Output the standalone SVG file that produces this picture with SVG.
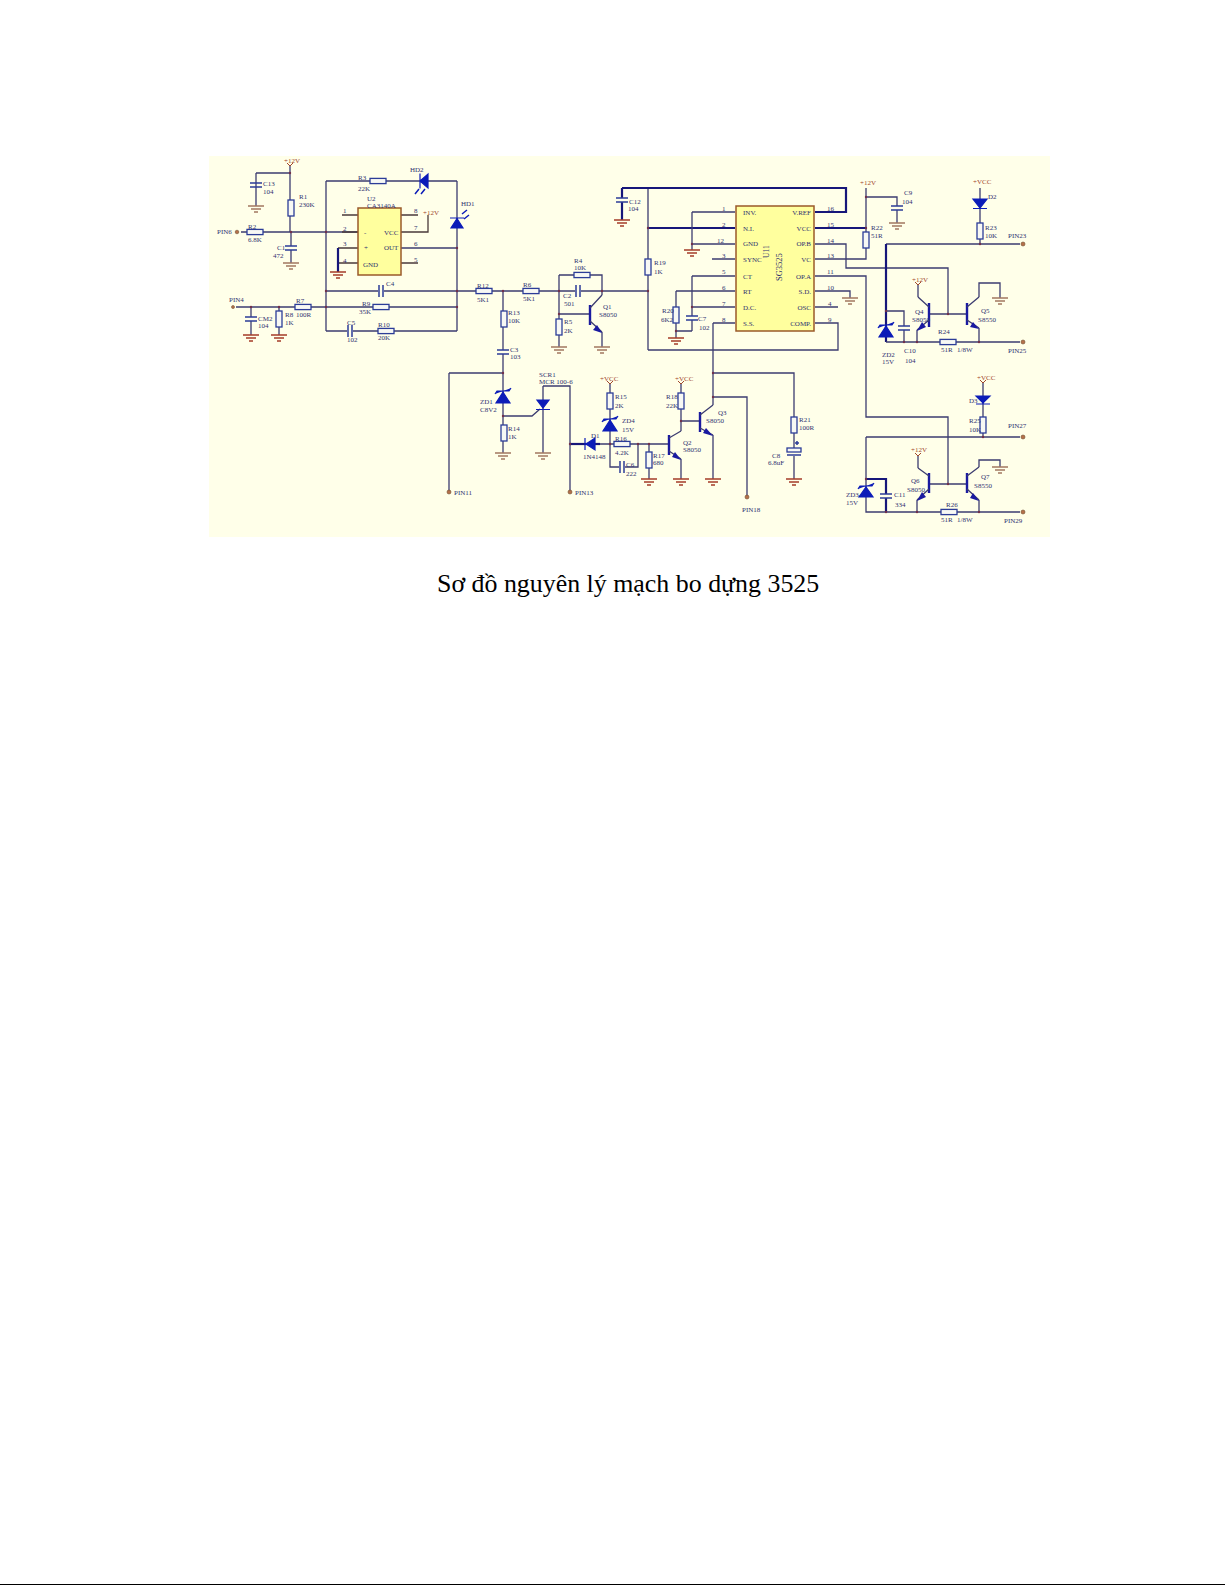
<svg xmlns="http://www.w3.org/2000/svg" width="1225" height="1585" viewBox="0 0 1225 1585">
<style>
text{font-family:"Liberation Serif","Times New Roman",serif;font-size:7px;fill:#2f3270}
.p{fill:#a0462a}
.e{text-anchor:end}
.w{fill:none;stroke:#3c3c70;stroke-width:1.3}
.t{fill:none;stroke:#16167a;stroke-width:2.2}
.b{fill:none;stroke:#4a3a3a;stroke-width:1.3}
.sym{fill:none;stroke:#3c3c70;stroke-width:1.3}
.bar{fill:none;stroke:#1a1aa0;stroke-width:2.4}
.ar{fill:#1a1aa0;stroke:none}
.d{fill:#0c1cb8;stroke:#0c1cb8;stroke-width:1.2}
.la{fill:none;stroke:#0c1cb8;stroke-width:1.5}
.r{fill:#f7f8f4;stroke:#2c3c98;stroke-width:1.3}
.c{fill:none;stroke:#2c3c98;stroke-width:1.5}
.gr{fill:none;stroke:#a53c28;stroke-width:1.5}
.gb{fill:none;stroke:#a37860;stroke-width:1.4}
.vt{fill:none;stroke:#a0462a;stroke-width:1}
.ic{fill:#ffff9e;stroke:#9a5a2a;stroke-width:1.5}
.pin{fill:#b5704a;stroke:#705030;stroke-width:.6}
.j{fill:#70304a}
.cap{font-size:25.9px;fill:#000}
.bg{fill:#ffffe9}
</style>
<defs>
<g id="rv"><rect class="r" x="-3" y="-8" width="6" height="16"/></g>
<g id="rh"><rect class="r" x="-8" y="-2.6" width="16" height="5.2"/></g>
<g id="cv"><path class="c" d="M-6-2H6M-6 2H6"/></g>
<g id="ch"><path class="c" d="M-2-6V6M2-6V6"/></g>
<g id="gnd-r"><path class="gr" d="M-8 0H8M-5 3H5M-2 6H2"/></g>
<g id="gnd-b"><path class="gb" d="M-8 0H8M-5 3H5M-2 6H2"/></g>
<g id="vup"><path class="vt" d="M-3-3L0 0 3-3"/></g>
</defs>
<rect id="page" x="0" y="0" width="1225" height="1585" fill="#fff"/>
<rect id="panel" x="209" y="156" width="841" height="381" class="bg"/>
<rect id="edge" x="0" y="1584" width="1225" height="1" fill="#000"/>

<g id="connectors">
<path class="w" d="M290 165V232M256 173H290M256 173V206M291 232V263M241 232H358M326 181V331M326 181H457M457 181V331M401 248H457M326 291H648M236 307H457M251 307V335M279 307V335M326 331H457"/>
<path class="b" d="M342 215H358M342 232H358M338 248H358M338 263H358M401 215H418M401 232H428V215M401 263H418"/>
<path class="t" d="M338 248V272"/>
<path class="w" d="M503 291V373M449 373H503V416M449 373V491M503 416V453M503 416H532L540 409M543 386V453M543 386H570V491M559 275V347M559 275H602V295M559 314H590M602 332V347M648 188V350M648 350H838V323H815"/>
<path class="t" d="M622 188H846V212H815M622 188V220M648 228H735M815 228H866"/>
<path class="w" d="M692 212H735M692 212V250M692 244H735M712 259H735M692 276H735M692 276V331M692 307H735M676 291H735M676 291V331M676 331V338M676 331H692M713 323H735M713 323V405"/>
<path class="w" d="M815 244H846V268H948V314M815 259H866V188M866 197H897V223M815 276H866V417H948V484M815 291H850V298M815 307H838"/>
<path class="w" d="M713 373H794V479M713 397H747V496"/>
<path class="t" d="M570 444H600"/>
<path class="w" d="M600 444H669M610 383V444M610 444V467H638V444M649 444V479M681 383V431M681 421H700M681 459V479M713 435V479"/>
<path class="w" d="M886 244H1020M980 188V244"/>
<path class="t" d="M886 244V342"/>
<path class="w" d="M886 311H904V342M886 342H1020M918 285V297M917 330V342M929 314H967M979 328V342M979 297V283H1000V298"/>
<path class="w" d="M983 383V437M866 437H1020M866 437V512H1020M918 456V468M917 500V512M929 484H967M979 500V512M979 467V460H1000V467"/>
<path class="t" d="M866 479H886V512"/>
</g>

<g id="junctions">
<circle class="j" cx="290" cy="173" r="1.2"/><circle class="j" cx="291" cy="232" r="1.2"/><circle class="j" cx="326" cy="232" r="1.2"/><circle class="j" cx="326" cy="291" r="1.2"/><circle class="j" cx="326" cy="307" r="1.2"/><circle class="j" cx="457" cy="248" r="1.2"/><circle class="j" cx="457" cy="291" r="1.2"/><circle class="j" cx="457" cy="307" r="1.2"/><circle class="j" cx="251" cy="307" r="1.2"/><circle class="j" cx="279" cy="307" r="1.2"/><circle class="j" cx="503" cy="291" r="1.2"/><circle class="j" cx="503" cy="373" r="1.2"/><circle class="j" cx="503" cy="416" r="1.2"/><circle class="j" cx="559" cy="291" r="1.2"/><circle class="j" cx="602" cy="291" r="1.2"/><circle class="j" cx="559" cy="314" r="1.2"/><circle class="j" cx="648" cy="291" r="1.2"/><circle class="j" cx="648" cy="228" r="1.2"/><circle class="j" cx="692" cy="244" r="1.2"/><circle class="j" cx="692" cy="307" r="1.2"/><circle class="j" cx="676" cy="331" r="1.2"/><circle class="j" cx="866" cy="197" r="1.2"/><circle class="j" cx="866" cy="228" r="1.2"/><circle class="j" cx="980" cy="244" r="1.2"/><circle class="j" cx="886" cy="311" r="1.2"/><circle class="j" cx="904" cy="342" r="1.2"/><circle class="j" cx="917" cy="342" r="1.2"/><circle class="j" cx="979" cy="342" r="1.2"/><circle class="j" cx="948" cy="314" r="1.2"/><circle class="j" cx="983" cy="437" r="1.2"/><circle class="j" cx="866" cy="479" r="1.2"/><circle class="j" cx="886" cy="512" r="1.2"/><circle class="j" cx="917" cy="512" r="1.2"/><circle class="j" cx="979" cy="512" r="1.2"/><circle class="j" cx="948" cy="484" r="1.2"/><circle class="j" cx="610" cy="444" r="1.2"/><circle class="j" cx="638" cy="444" r="1.2"/><circle class="j" cx="649" cy="444" r="1.2"/><circle class="j" cx="681" cy="421" r="1.2"/><circle class="j" cx="713" cy="373" r="1.2"/><circle class="j" cx="713" cy="397" r="1.2"/><circle class="j" cx="570" cy="444" r="1.2"/>
</g>

<g id="U2"><rect class="ic" x="358" y="208" width="43" height="67"/><text x="367" y="201">U2</text><text x="367" y="207.500">CA3140A</text><text x="343" y="213">1</text><text x="343" y="231">2</text><text x="343" y="246">3</text><text x="343" y="263">4</text><text x="364" y="235">-</text><text x="364" y="250">+</text><text x="363" y="267">GND</text><text x="384" y="235">VCC</text><text x="384" y="250">OUT</text><text x="414" y="213">8</text><text x="414" y="230">7</text><text x="414" y="246">6</text><text x="414" y="262">5</text></g>
<g id="U11"><rect class="ic" x="736" y="206" width="78" height="125"/>
<text x="722" y="211">1</text><text x="722" y="227">2</text><text x="717" y="243">12</text><text x="722" y="258">3</text><text x="722" y="274">5</text><text x="722" y="290">6</text><text x="722" y="306">7</text><text x="722" y="322">8</text>
<text x="743" y="215">INV.</text><text x="743" y="231">N.I.</text><text x="743" y="246">GND</text><text x="743" y="262">SYNC</text><text x="743" y="279">CT</text><text x="743" y="294">RT</text><text x="743" y="310">D.C.</text><text x="743" y="326">S.S.</text>
<text class="e" x="811" y="215">V.REF</text><text class="e" x="811" y="231">VCC</text><text class="e" x="811" y="246">OP.B</text><text class="e" x="811" y="262">VC</text><text class="e" x="811" y="279">OP.A</text><text class="e" x="811" y="294">S.D.</text><text class="e" x="811" y="310">OSC</text><text class="e" x="811" y="326">COMP.</text>
<text x="827" y="211">16</text><text x="827" y="227">15</text><text x="827" y="243">14</text><text x="827" y="258">13</text><text x="827" y="274">11</text><text x="827" y="290">10</text><text x="828" y="306">4</text><text x="828" y="322">9</text>
<text transform="translate(769 258) rotate(-90)" style="font-size:7.5px">U11</text><text transform="translate(782 281) rotate(-90)" style="font-size:8.5px">SG3525</text></g>

<g id="P12V1"><text class="p" x="284" y="163">+12V</text><use href="#vup" x="290" y="166"/></g>
<g id="C13"><use href="#cv" x="256" y="185"/><use href="#gnd-b" x="256" y="206"/><text x="263" y="186">C13</text><text x="263" y="194">104</text></g>
<g id="R1"><use href="#rv" x="291" y="208"/><text x="299" y="199">R1</text><text x="299" y="207">230K</text></g>
<g id="R2"><use href="#rh" x="255" y="232"/><text x="248" y="229">R2</text><text x="248" y="242">6.8K</text></g>
<g id="PIN6"><circle class="pin" cx="237" cy="232" r="1.8"/><text x="217" y="234">PIN6</text></g>
<g id="C1"><rect x="285" y="246" width="12" height="4" class="bg"/><use href="#cv" x="291" y="248"/><use href="#gnd-b" x="291" y="263"/><text x="277" y="250">C1</text><text x="273" y="258">472</text></g>
<g id="R3"><use href="#rh" x="378" y="181"/><text x="358" y="180">R3</text><text x="358" y="191">22K</text></g>
<g id="HD2"><path class="d" d="M428 174V188L420 181ZM420 173.500V188.500"/><path class="la" d="M419 189L415 194M425 189L421 194"/><text x="410" y="172">HD2</text></g>
<g id="HD1"><path class="d" d="M451 228H463L457 218.500ZM450 218H464"/><path class="la" d="M464 219L469 215M462 214L467 210"/><text x="461" y="206">HD1</text></g>
<g id="P12V2"><text class="p" x="423" y="215">+12V</text></g>
<g id="GU2"><use href="#gnd-r" x="338" y="272"/></g>
<g id="C4"><rect x="378" y="287" width="6" height="8" class="bg"/><use href="#ch" x="381" y="291"/><text x="386" y="286">C4</text></g>
<g id="R12"><use href="#rh" x="484" y="291"/><text x="477" y="288">R12</text><text x="477" y="302">5K1</text></g>
<g id="PIN4"><circle class="pin" cx="233" cy="307" r="1.5"/><text x="229" y="302">PIN4</text></g>
<g id="CM2"><rect x="245" y="317" width="12" height="4" class="bg"/><use href="#cv" x="251" y="319"/><use href="#gnd-r" x="251" y="335"/><text x="258" y="321">CM2</text><text x="258" y="328">104</text></g>
<g id="R8"><use href="#rv" x="279" y="319"/><use href="#gnd-r" x="279" y="335"/><text x="285" y="317">R8</text><text x="285" y="325">1K</text></g>
<g id="R7"><use href="#rh" x="303" y="307"/><text x="296" y="303">R7</text><text x="296" y="317">100R</text></g>
<g id="R9"><use href="#rh" x="381" y="307"/><text x="362" y="306">R9</text><text x="359" y="314">35K</text></g>
<g id="C5"><rect x="347" y="327" width="6" height="8" class="bg"/><use href="#ch" x="350" y="331"/><text x="347" y="325">C5</text><text x="347" y="342">102</text></g>
<g id="R10"><use href="#rh" x="386" y="331"/><text x="378" y="327">R10</text><text x="378" y="340">20K</text></g>

<g id="R6"><use href="#rh" x="531" y="291"/><text x="523" y="287">R6</text><text x="523" y="301">5K1</text></g>
<g id="R13"><use href="#rv" x="504" y="319"/><text x="508" y="315">R13</text><text x="508" y="323">10K</text></g>
<g id="C3"><rect x="497" y="350" width="12" height="4" class="bg"/><use href="#cv" x="503" y="352"/><text x="510" y="352">C3</text><text x="510" y="359">103</text></g>
<g id="R4"><use href="#rh" x="582" y="275"/><text x="574" y="263">R4</text><text x="574" y="270">10K</text></g>
<g id="C2"><rect x="575" y="287" width="6" height="8" class="bg"/><use href="#ch" x="578" y="291"/><text x="563" y="298">C2</text><text x="564" y="306">501</text></g>
<g id="R5"><use href="#rv" x="559" y="327"/><use href="#gnd-b" x="559" y="347"/><text x="564" y="324">R5</text><text x="564" y="333">2K</text></g>
<g id="Q1"><path class="bar" d="M590 305V325"/><path class="sym" d="M590 308L602 295M590 321L602 332"/><path class="ar" d="M602 333L597 325 593 330Z"/><use href="#gnd-b" x="602" y="347"/><text x="603" y="309">Q1</text><text x="599" y="317">S8050</text></g>
<g id="C12"><rect x="616" y="198" width="12" height="4" class="bg"/><use href="#cv" x="622" y="200"/><use href="#gnd-r" x="622" y="220"/><text x="629" y="204">C12</text><text x="628" y="211">104</text></g>
<g id="R19"><use href="#rv" x="648" y="267"/><text x="654" y="265">R19</text><text x="654" y="274">1K</text></g>
<g id="GU11A"><use href="#gnd-r" x="692" y="250"/></g>
<g id="R20"><use href="#rv" x="676" y="315"/><use href="#gnd-r" x="676" y="338"/><text x="662" y="313">R20</text><text x="661" y="322">6K2</text></g>
<g id="C7"><rect x="686" y="316" width="12" height="4" class="bg"/><use href="#cv" x="692" y="318"/><text x="698" y="321">C7</text><text x="699" y="330">102</text></g>

<g id="P12V3"><text class="p" x="860" y="185">+12V</text></g>
<g id="C9"><rect x="891" y="206" width="12" height="4" class="bg"/><use href="#cv" x="897" y="208"/><use href="#gnd-b" x="897" y="223"/><text x="904" y="195">C9</text><text x="902" y="204">104</text></g>
<g id="R22"><use href="#rv" x="866" y="240"/><text x="871" y="230">R22</text><text x="871" y="238">51R</text></g>
<g id="G10"><use href="#gnd-b" x="850" y="298"/></g>
<g id="D2"><path class="d" d="M973 199H987L980 208ZM973 208.500H987"/><text class="p" x="973" y="184">+VCC</text><text x="988" y="199">D2</text></g>
<g id="R23"><use href="#rv" x="980" y="231"/><text x="985" y="230">R23</text><text x="985" y="238">10K</text></g>
<g id="PIN23"><circle class="pin" cx="1023" cy="244" r="2"/><text x="1008" y="238">PIN23</text></g>
<g id="ZD2"><path class="d" d="M879 337H893L886 326ZM878 328L880 325H892L894 322"/><text x="882" y="357">ZD2</text><text x="882" y="364">15V</text></g>
<g id="C10"><rect x="898" y="326" width="12" height="4" class="bg"/><use href="#cv" x="904" y="328"/><text x="904" y="353">C10</text><text x="905" y="363">104</text></g>
<g id="Q4"><path class="bar" d="M929 303V327"/><path class="sym" d="M918 297L929 307M929 320L917 330"/><path class="ar" d="M917 331L922 322 926 327Z"/><text class="p" x="912" y="282">+12V</text><use href="#vup" x="918" y="285"/><text x="915" y="314">Q4</text><text x="912" y="322">S8050</text></g>
<g id="Q5"><path class="bar" d="M967 303V325"/><path class="sym" d="M967 307L979 297M967 320L979 328"/><path class="ar" d="M979 329L973 322 970 327Z"/><use href="#gnd-b" x="1000" y="298"/><text x="981" y="313">Q5</text><text x="978" y="322">S8550</text></g>
<g id="R24"><use href="#rh" x="948" y="342"/><text x="938" y="334">R24</text><text x="941" y="352">51R</text><text x="957" y="352">1/8W</text></g>
<g id="PIN25"><circle class="pin" cx="1023" cy="342" r="2"/><text x="1008" y="353">PIN25</text></g>

<g id="ZD1"><path class="d" d="M496 403H510L503 392ZM495 394L497 391H509L511 388"/><text x="480" y="404">ZD1</text><text x="480" y="412">C8V2</text></g>
<g id="R14"><use href="#rv" x="504" y="433"/><use href="#gnd-b" x="503" y="453"/><text x="508" y="431">R14</text><text x="508" y="439">1K</text></g>
<g id="SCR1"><path class="d" d="M537 400H549L543 408ZM536 409.500H550"/><use href="#gnd-b" x="543" y="453"/><text x="539" y="377">SCR1</text><text x="539" y="384">MCR 100-6</text></g>
<g id="PIN11"><circle class="pin" cx="449" cy="492" r="2"/><text x="454" y="495">PIN11</text></g>
<g id="PIN13"><circle class="pin" cx="570" cy="492" r="2"/><text x="575" y="495">PIN13</text></g>
<g id="D1"><path class="d" d="M595 438V450L586 444ZM585 438V450"/><text x="591" y="438">D1</text><text x="583" y="459">1N4148</text></g>
<g id="R15"><use href="#rv" x="610" y="401"/><text class="p" x="600" y="381">+VCC</text><use href="#vup" x="610" y="384"/><text x="615" y="399">R15</text><text x="615" y="408">2K</text></g>
<g id="ZD4"><path class="d" d="M603 431H617L610 420ZM602 422L604 419H616L618 416"/><text x="622" y="423">ZD4</text><text x="622" y="432">15V</text></g>
<g id="R16"><use href="#rh" x="622" y="444"/><text x="615" y="441">R16</text><text x="615" y="455">4.2K</text></g>
<g id="C6"><rect x="619" y="463" width="6" height="8" class="bg"/><use href="#ch" x="622" y="467"/><text x="626" y="467">C6</text><text x="626" y="476">222</text></g>
<g id="R17"><use href="#rv" x="649" y="460"/><use href="#gnd-r" x="649" y="479"/><text x="653" y="458">R17</text><text x="653" y="465">680</text></g>
<g id="R18"><use href="#rv" x="681" y="401"/><text class="p" x="675" y="381">+VCC</text><use href="#vup" x="681" y="384"/><text x="666" y="399">R18</text><text x="666" y="408">22K</text></g>
<g id="Q2"><path class="bar" d="M669 435V455"/><path class="sym" d="M669 438L681 431M669 451L681 459"/><path class="ar" d="M681 460L675 452 672 457Z"/><use href="#gnd-r" x="681" y="479"/><text x="683" y="445">Q2</text><text x="683" y="452">S8050</text></g>
<g id="Q3"><path class="bar" d="M700 412V432"/><path class="sym" d="M700 415L713 405M700 428L713 435"/><path class="ar" d="M713 436L706 428 703 433Z"/><use href="#gnd-r" x="713" y="479"/><text x="718" y="415">Q3</text><text x="706" y="423">S8050</text></g>
<g id="R21"><use href="#rv" x="794" y="425"/><text x="799" y="422">R21</text><text x="799" y="430">100R</text></g>
<g id="C8"><rect class="bg" x="787" y="448" width="14" height="8"/><rect class="r" x="787" y="448" width="14" height="4"/><path class="c" d="M787 455H801"/><path class="c" d="M795 443H799M797 441V445"/><use href="#gnd-r" x="794" y="479"/><text x="772" y="458">C8</text><text x="768" y="465">6.8uF</text></g>
<g id="PIN18"><circle class="pin" cx="747" cy="497" r="2"/><text x="742" y="512">PIN18</text></g>

<g id="D3"><path class="d" d="M976 396H990L983 403ZM976 404H990"/><text class="p" x="977" y="380">+VCC</text><use href="#vup" x="983" y="383"/><text x="969" y="403">D3</text></g>
<g id="R25"><use href="#rv" x="983" y="425"/><text x="969" y="423">R25</text><text x="969" y="432">10K</text></g>
<g id="PIN27"><circle class="pin" cx="1023" cy="437" r="2"/><text x="1008" y="428">PIN27</text></g>
<g id="ZD3"><path class="d" d="M859 497H873L866 487ZM858 489L860 486H872L874 483"/><text x="846" y="497">ZD3</text><text x="846" y="505">15V</text></g>
<g id="C11"><rect x="880" y="494" width="12" height="4" class="bg"/><use href="#cv" x="886" y="496"/><text x="894" y="497">C11</text><text x="895" y="507">334</text></g>
<g id="Q6"><path class="bar" d="M929 473V493"/><path class="sym" d="M918 468L929 476M929 489L917 500"/><path class="ar" d="M917 501L922 492 926 497Z"/><text class="p" x="911" y="452">+12V</text><use href="#vup" x="918" y="456"/><text x="911" y="483">Q6</text><text x="907" y="492">S8050</text></g>
<g id="Q7"><path class="bar" d="M967 473V493"/><path class="sym" d="M967 476L979 467M967 489L979 500"/><path class="ar" d="M979 501L973 493 970 498Z"/><use href="#gnd-b" x="1000" y="467"/><text x="981" y="479">Q7</text><text x="974" y="488">S8550</text></g>
<g id="R26"><use href="#rh" x="949" y="512"/><text x="946" y="507">R26</text><text x="941" y="522">51R</text><text x="957" y="522">1/8W</text></g>
<g id="PIN29"><circle class="pin" cx="1023" cy="512" r="2"/><text x="1004" y="523">PIN29</text></g>

<text id="caption" class="cap" x="437" y="592">Sơ đồ nguyên lý mạch bo dựng 3525</text>
</svg>
